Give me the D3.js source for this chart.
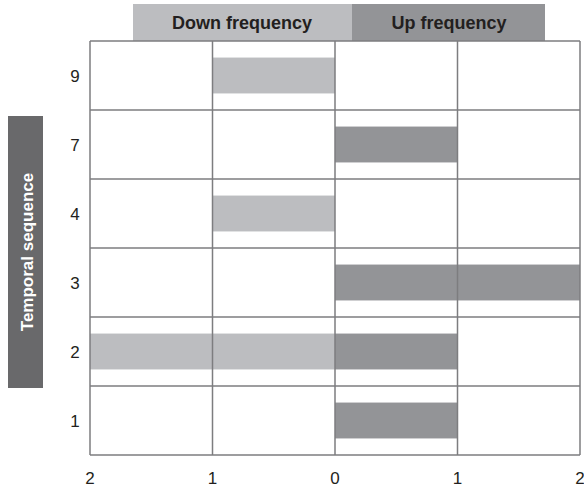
<!DOCTYPE html>
<html>
<head>
<meta charset="utf-8">
<script src="https://cdn.jsdelivr.net/npm/d3@7"></script>
<style>
  body { margin: 0; background: #fff; }
  svg { font-family: "Liberation Sans", Arial, sans-serif; }
</style>
</head>
<body>
<svg class="chart" width="584" height="492"></svg>
<script>
const sequence = ['9', '7', '4', '3', '2', '1'];
const downFreq = [1, 0, 1, 0, 2, 0];
const upFreq = [0, 1, 0, 2, 1, 1];
const xTicks = [-2, -1, 0, 1, 2];

const lightGrey = '#bcbdc0';
const darkGrey = '#939497';

const svg = d3.select('.chart');

const x = d3.scaleLinear().domain([-2, 2]).range([90, 580]);
const y = d3.scaleBand().domain(sequence).range([41, 455]);

const rows = sequence.map((s, i) => ({ s, down: downFreq[i], up: upFreq[i] }));
const barH = y.bandwidth() * 0.52;

// header boxes
svg.append('rect').attr('x', 133).attr('y', 4).attr('width', 219).attr('height', 37).attr('fill', lightGrey);
svg.append('rect').attr('x', 352).attr('y', 4).attr('width', 193).attr('height', 37).attr('fill', darkGrey);
svg.append('text').attr('x', 242).attr('y', 29).attr('text-anchor', 'middle')
  .attr('font-size', 18).attr('font-weight', 'bold').attr('fill', '#231f20').text('Down frequency');
svg.append('text').attr('x', 449).attr('y', 29).attr('text-anchor', 'middle')
  .attr('font-size', 18).attr('font-weight', 'bold').attr('fill', '#231f20').text('Up frequency');

// bars
const barY = d => y(d.s) + (y.bandwidth() - barH) / 2;
svg.append('g').selectAll('rect')
  .data(rows.filter(d => d.down > 0))
  .enter().append('rect')
  .attr('x', d => x(-d.down))
  .attr('y', barY)
  .attr('width', d => x(0) - x(-d.down))
  .attr('height', barH)
  .attr('fill', lightGrey);

svg.append('g').selectAll('rect')
  .data(rows.filter(d => d.up > 0))
  .enter().append('rect')
  .attr('x', x(0))
  .attr('y', barY)
  .attr('width', d => x(d.up) - x(0))
  .attr('height', barH)
  .attr('fill', darkGrey);

// grid
const grid = svg.append('g').attr('stroke', '#7d7d7f').attr('stroke-width', 1.5).attr('fill', 'none');
grid.selectAll('line.v')
  .data(xTicks)
  .enter().append('line')
  .attr('class', 'v')
  .attr('x1', d => x(d)).attr('x2', d => x(d))
  .attr('y1', 41).attr('y2', 455);
grid.selectAll('line.h')
  .data(sequence.concat(['end']))
  .enter().append('line')
  .attr('class', 'h')
  .attr('x1', 90).attr('x2', 580)
  .attr('y1', d => (d === 'end' ? 455 : y(d)))
  .attr('y2', d => (d === 'end' ? 455 : y(d)));

// x axis labels
svg.append('g').selectAll('text')
  .data(xTicks)
  .enter().append('text')
  .attr('x', d => x(d))
  .attr('y', 484)
  .attr('text-anchor', 'middle')
  .attr('font-size', 17)
  .attr('fill', '#231f20')
  .text(d => Math.abs(d));

// y axis labels
svg.append('g').selectAll('text')
  .data(sequence)
  .enter().append('text')
  .attr('x', 75)
  .attr('y', d => y(d) + y.bandwidth() / 2 + 6)
  .attr('text-anchor', 'middle')
  .attr('font-size', 17)
  .attr('fill', '#231f20')
  .text(d => d);

// y title box
svg.append('rect').attr('x', 8).attr('y', 116).attr('width', 35).attr('height', 272).attr('fill', '#69696b');
svg.append('text')
  .attr('transform', 'translate(33,252) rotate(-90)')
  .attr('text-anchor', 'middle')
  .attr('font-size', 17)
  .attr('font-weight', 'bold')
  .attr('fill', '#fff')
  .text('Temporal sequence');
</script>
</body>
</html>
